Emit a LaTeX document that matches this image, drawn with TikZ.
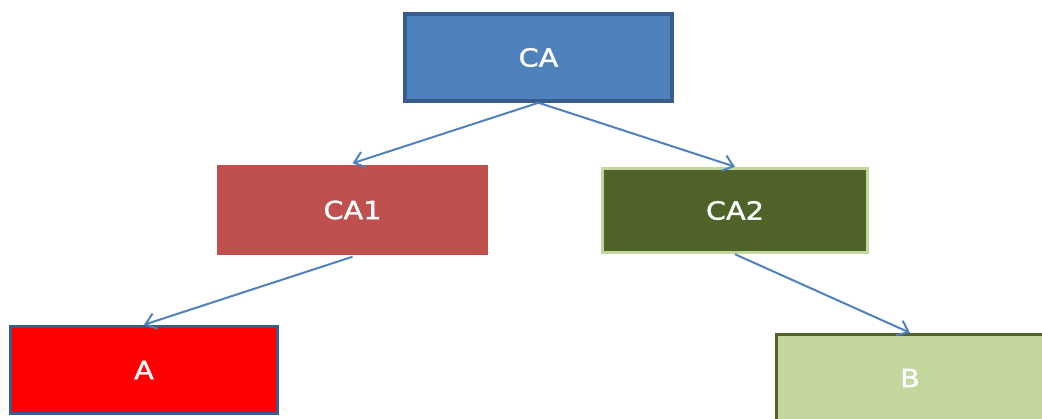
\documentclass[tikz,border=0pt]{standalone}
\usepackage{fontspec}
\newfontfamily\lbl[FakeBold=1.2]{DejaVu Sans}
\usetikzlibrary{arrows.meta}
\definecolor{cablue}{HTML}{4F81BD}
\definecolor{cablueedge}{HTML}{385D8A}
\definecolor{cared}{HTML}{C0504D}
\definecolor{caolive}{HTML}{4F6228}
\definecolor{calime}{HTML}{C3D69B}
\definecolor{linkblue}{HTML}{4F81BD}
\newcommand{\boxtext}[1]{\scalebox{1.15}[1]{#1}}
\tikzset{
  box/.style={rectangle, minimum width=267pt, minimum height=87pt, inner sep=0pt,
    text=white, font=\lbl\fontsize{25}{29}\selectfont, line width=3.5pt},
  link/.style={draw=linkblue, line width=2pt,
    -{Straight Barb[length=10pt,width=16pt,line width=2pt]}}
}
\begin{document}
\begin{tikzpicture}[x=1pt,y=-1pt]
  \useasboundingbox (0,0) rectangle (1042,418);
  \clip (0,0) rectangle (1042,418);
  % top level
  \node[box, fill=cablue, draw=cablueedge] (ca) at (538.5,57.5) {\boxtext{CA}};
  % second level
  \node[box, fill=cared, minimum width=271pt, minimum height=90pt] (ca1) at (352.5,210) {\boxtext{CA1}};
  \node[box, fill=caolive, draw=calime, minimum width=265pt, minimum height=84pt] (ca2) at (735,210.5) {\boxtext{CA2}};
  % leaves
  \node[box, fill=red, draw=cablueedge] (a) at (144,370) {\boxtext{A}};
  \node[box, fill=calime, draw=caolive] (b) at (910,378) {\boxtext{B}};
  % links
  \draw[link] (ca.south) -- (ca1.north);
  \draw[link] (ca.south) -- (ca2.north);
  \draw[link] (ca1.south) -- (a.north);
  \draw[link] (ca2.south) -- (b.north);
\end{tikzpicture}
\end{document}
